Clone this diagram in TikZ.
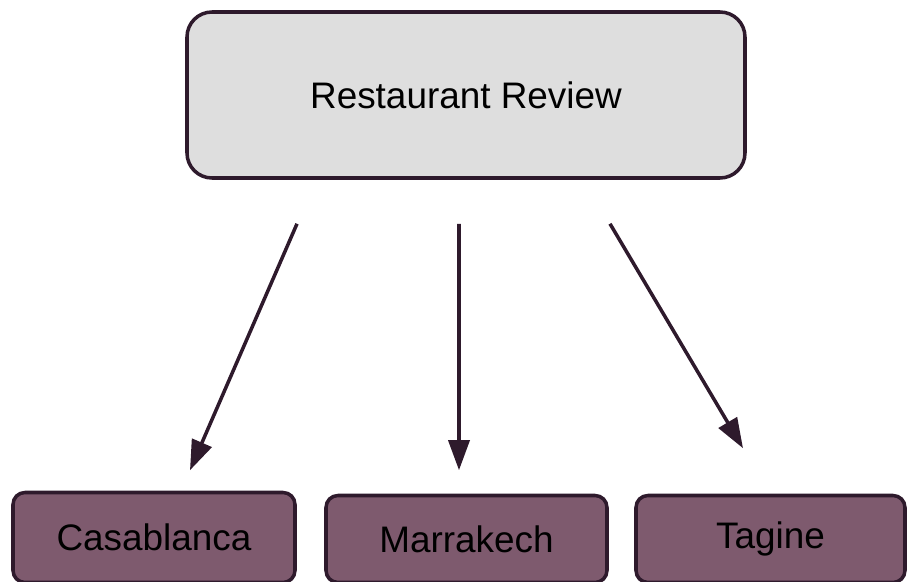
\documentclass[tikz,border=0pt]{standalone}
\usepackage{fontspec}
\setmainfont{Liberation Sans}
\usetikzlibrary{arrows.meta,positioning}

\definecolor{edgeplum}{HTML}{2E1A2C}
\definecolor{boxgray}{HTML}{DEDEDE}
\definecolor{boxplum}{HTML}{7E5A6E}

\begin{document}
\begin{tikzpicture}[-{Triangle[length=0.6cm,width=0.42cm]},line width=2pt,draw=edgeplum]
  \tikzstyle{topic}=[draw=edgeplum,fill=boxgray,rounded corners=0.5cm,minimum width=11.16cm,minimum height=3.32cm,font=\fontsize{21}{25}\selectfont]
  \tikzstyle{place}=[draw=edgeplum,fill=boxplum,rounded corners=0.24cm,minimum height=1.74cm,font=\fontsize{21}{25}\selectfont]
  \tikzstyle{link}=[draw=edgeplum,line width=2pt]

  \useasboundingbox (0,0) rectangle (18.2,-11.64);

  \node[topic] (review) at (9.32,-1.9) {Restaurant Review};
  \node[place,minimum width=5.64cm,minimum height=1.8cm] (casa) at (3.08,-10.75) {Casablanca};
  \node[place,minimum width=5.62cm] (marra) at (9.33,-10.78) {Marrakech};
  \node[place,minimum width=5.38cm] (tagine) at (15.41,-10.78) {Tagine};

  \draw[link] ([xshift=-3.38cm,yshift=-0.88cm]review.south) -- ([xshift=0.72cm,yshift=0.41cm]casa.north);
  \draw[link] ([xshift=-0.14cm,yshift=-0.88cm]review.south) -- ([xshift=-0.15cm,yshift=0.47cm]marra.north);
  \draw[link] ([xshift=2.88cm,yshift=-0.88cm]review.south) -- ([xshift=-0.55cm,yshift=0.91cm]tagine.north);
\end{tikzpicture}
\end{document}
